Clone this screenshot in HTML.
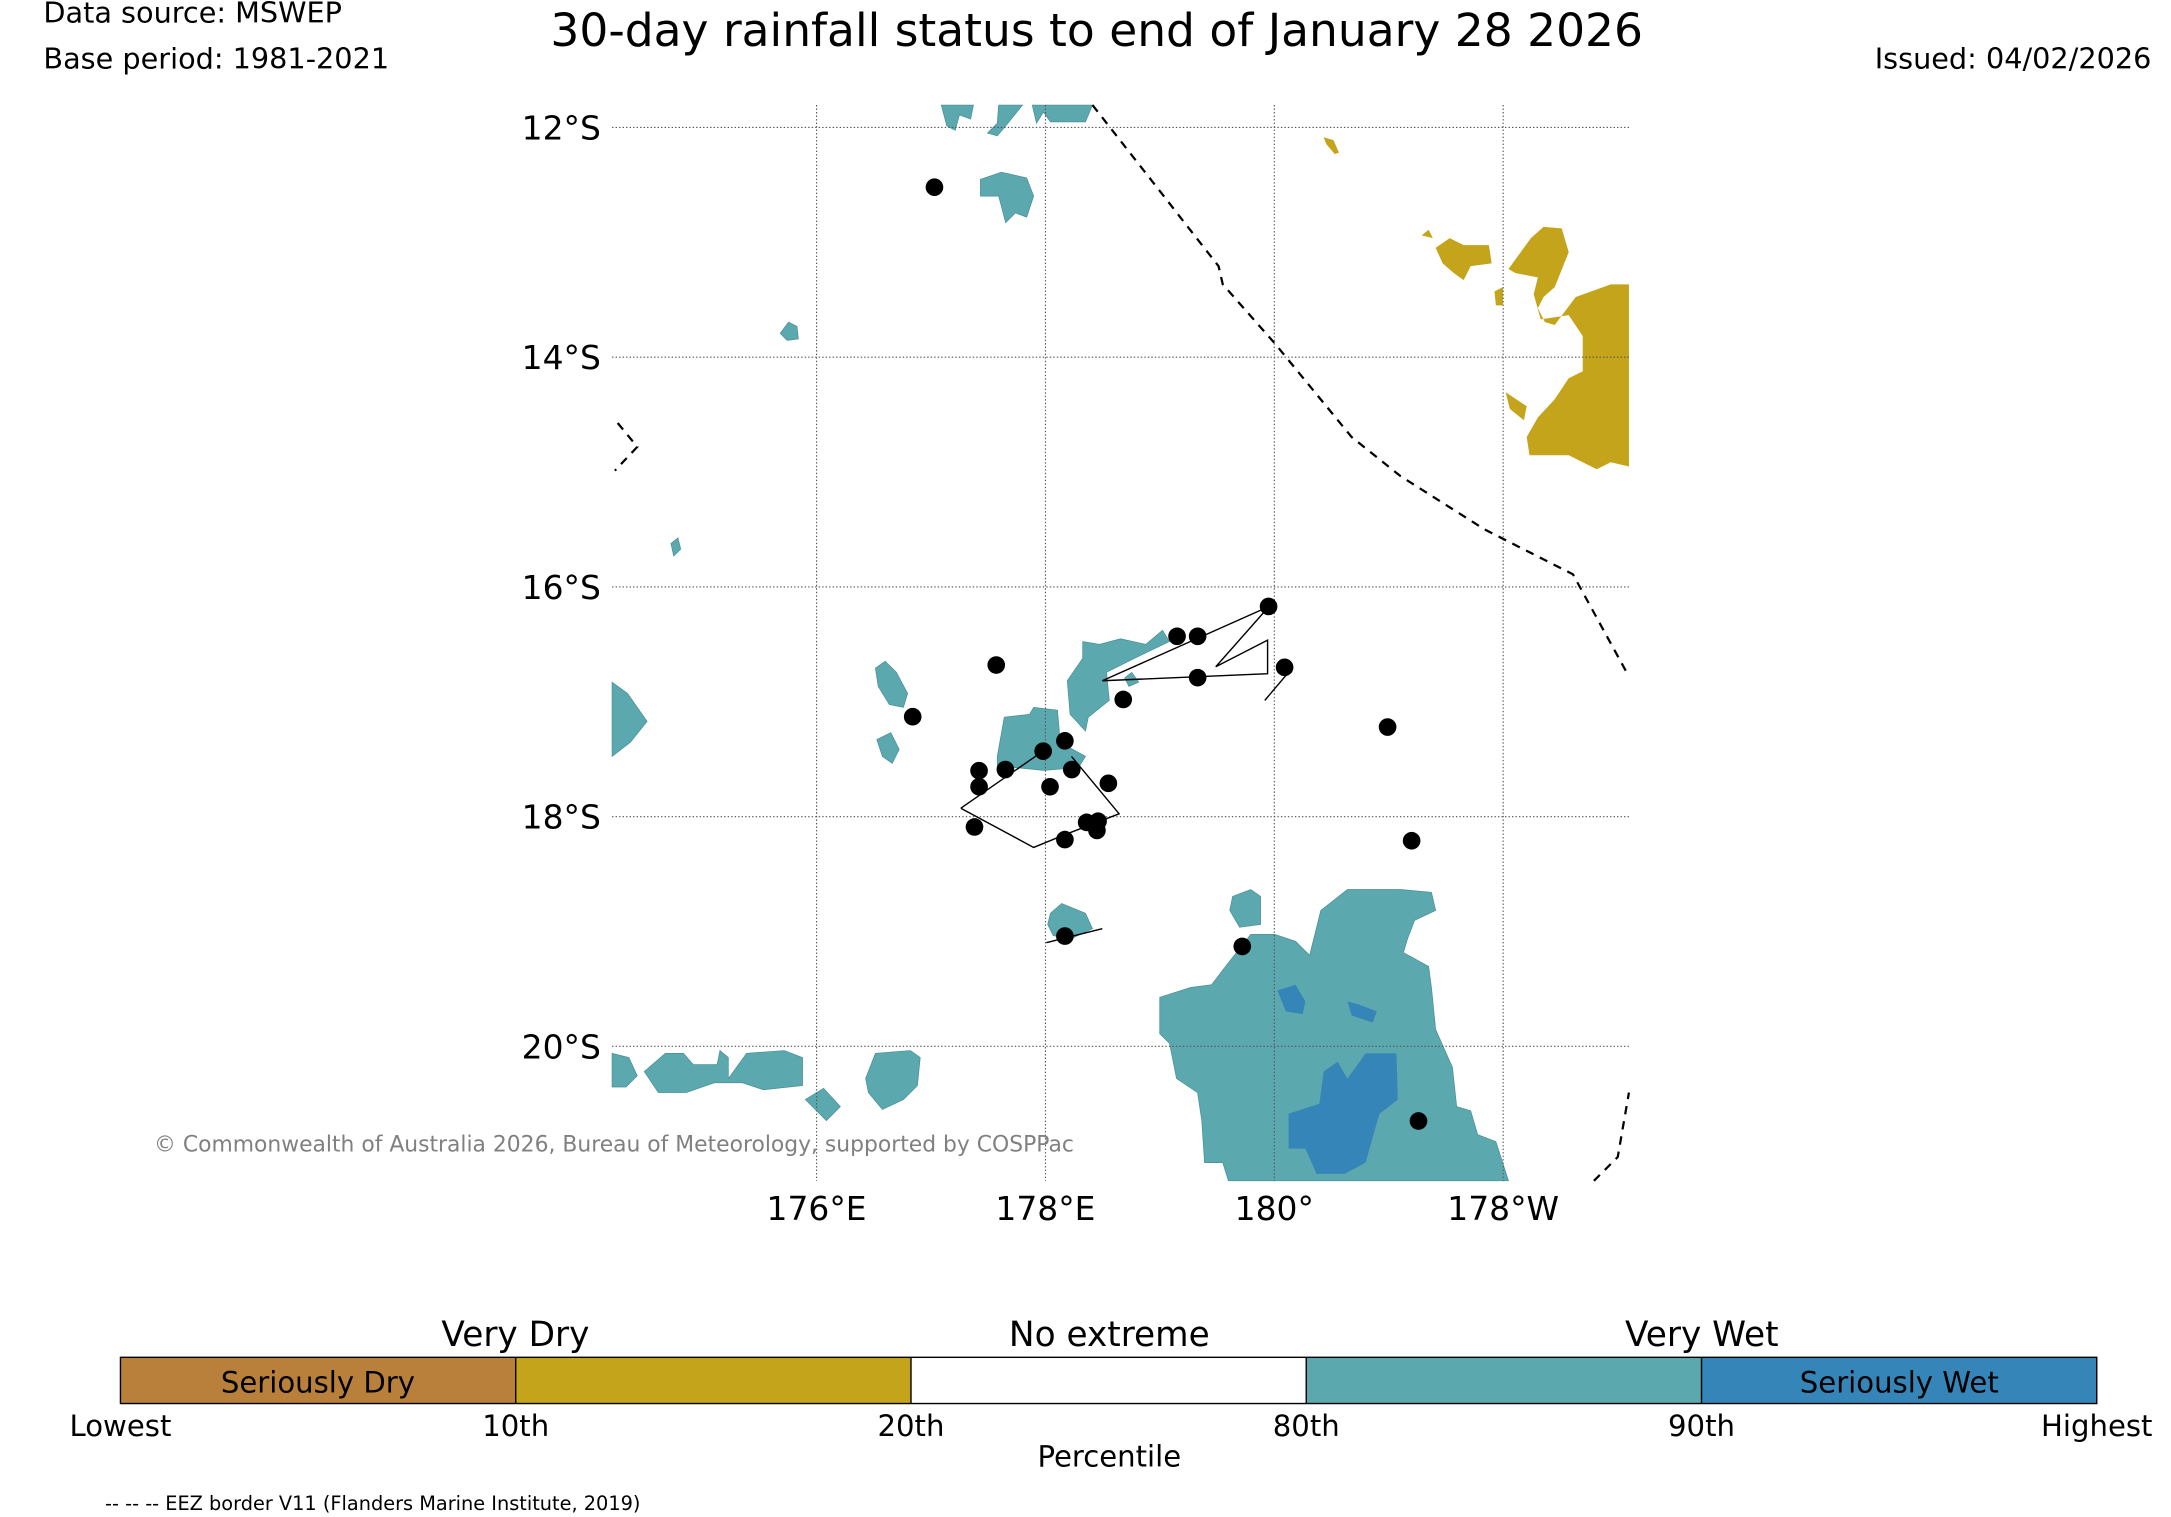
<!DOCTYPE html>
<html><head><meta charset="utf-8"><style>
html,body{margin:0;padding:0;background:#fff}
svg{display:block}
text{font-family:"DejaVu Sans","Liberation Sans",sans-serif}
</style></head><body>
<svg id="chart" xmlns="http://www.w3.org/2000/svg" width="2171" height="1517" viewBox="0 0 1550 1083" preserveAspectRatio="none">
<rect width="1550" height="1083" fill="#fff"/>
<text x="31" y="16" font-size="20.5">Data source: MSWEP</text>
<text x="31" y="49" font-size="20.5">Base period: 1981-2021</text>
<text x="783" y="33" font-size="32.5" text-anchor="middle">30-day rainfall status to end of January 28 2026</text>
<text x="1536" y="49" font-size="20.5" text-anchor="end">Issued: 04/02/2026</text>
<g id="map"></g>
<text x="110" y="822" font-size="15.6" fill="#808080">© Commonwealth of Australia 2026, Bureau of Meteorology, supported by COSPPac</text>
<g id="cbar"></g>
<text x="75" y="1078" font-size="13.8">-- -- -- EEZ border V11 (Flanders Marine Institute, 2019)</text>
</svg>
<script>
const NS="http://www.w3.org/2000/svg";
const latTicks=[12,14,16,18,20];
const lonTicks=[176,178,180,182];
const lonLabels=["176°E","178°E","180°","178°W"];
const stationLon=[177.03,177.57,176.84,177.42,177.42,177.65,177.98,178.17,178.23,178.04,178.55,177.38,178.17,178.36,178.46,178.45,178.68,179.15,179.33,179.95,179.33,180.09,180.99,181.20,178.17,179.72,181.26];
const stationLat=[12.52,16.68,17.13,17.60,17.74,17.59,17.43,17.34,17.59,17.74,17.71,18.09,18.20,18.05,18.04,18.12,16.98,16.43,16.43,16.17,16.79,16.70,17.22,18.21,19.04,19.13,20.65];
const cbarLabels=["Lowest","10th","20th","80th","90th","Highest"];
const cbarColors=["#B8803A","#C4A41A","#ffffff","#5BA8AE","#3585B8"];
const X0=437,X1=1163,Y0=75,Y1=843;
const xOf=lon=>583+(lon-176)*81.7;
const yOf=lat=>91+(lat-12)*82;
const map=document.getElementById('map');
function mk(tag,attrs,parent){const e=document.createElementNS(NS,tag);for(const k in attrs)e.setAttribute(k,attrs[k]);(parent||map).appendChild(e);return e;}
const teal=[
"672,75 695,75 693,85 685,82 682,93 676,90","713,75 730,75 718,90 712,97 705,95 712,88","737,75 780,75 775,87 750,87 745,80 740,88",
"700,128 715,123 733,127 738,140 733,155 725,152 718,159 713,140 700,140","557,238 563,230 569,233 570,242 562,243","479,388 484,384 486,392 481,397",
"437,487 448,495 462,515 450,530 437,540","625,477 632,472 640,480 648,495 645,505 635,503 627,490","626,528 636,523 642,535 637,545 630,540",
"712,540 717,512 735,510 738,505 755,507 757,530 775,540 770,548 745,550 725,548 712,548",
"762,486 773,470 773,458 785,460 800,456 818,460 830,450 835,458 810,470 790,480 792,500 777,512 775,522 764,510",
"803,484 808,480 813,487 806,490","750,652 758,645 775,652 780,663 765,670 752,668 748,660",
"437,752 449,755 455,768 447,776 437,776","460,765 475,752 488,752 495,760 512,760 514,750 520,755 520,770 533,752 560,750 573,755 573,775 545,778 530,773 510,773 490,780 470,780",
"575,785 588,777 600,790 590,800","625,752 650,750 657,755 655,775 645,785 630,792 620,780 618,770",
"880,640 893,635 900,640 900,660 885,662 878,650",
"828,712 850,705 865,703 875,690 893,667 910,667 925,672 935,682 943,650 962,635 1000,635 1022,637 1025,650 1010,657 1005,670 1002,680 1020,690 1022,705 1025,735 1037,762 1040,790 1050,793 1055,810 1068,815 1077,843 877,843 873,830 860,830 858,800 855,780 840,770 835,745 828,738"];
const blue=["920,795 942,788 945,765 955,758 962,770 975,752 997,752 998,785 985,795 982,805 975,830 960,838 940,838 932,820 920,820","912,707 925,703 932,715 930,724 918,722","962,715 970,717 983,722 980,730 965,725"];
const gold=["945,98 952,100 956,109 953,110 947,103","1015,168 1020,164 1023,170","1025,177 1035,170 1045,175 1063,175 1065,188 1050,190 1045,200 1038,195 1030,188",
"1077,192 1093,170 1102,162 1115,163 1120,180 1110,205 1102,212 1098,220 1103,230 1110,232 1125,212 1150,203 1163,203 1163,333 1150,330 1140,335 1120,325 1092,325 1090,312 1098,298 1110,285 1120,270 1130,265 1130,240 1120,225 1100,228 1095,210 1098,198 1082,195",
"1067,208 1073,205 1073,218 1068,218","1075,280 1090,290 1088,300 1078,292"];
teal.forEach(p=>{const e=mk('polygon',{points:p,fill:'#5BA8AE',stroke:'#4a9096','stroke-width':0.5});

});
blue.forEach(p=>{const e=mk('polygon',{points:p,fill:'#3585B8'});

});
gold.forEach(p=>{const e=mk('polygon',{points:p,fill:'#C4A41A'});

});
latTicks.forEach(l=>{const y=yOf(l);
const g=mk('line',{x1:X0,x2:X1,y1:y,y2:y,stroke:'#555','stroke-width':0.8,'stroke-dasharray':'1,1.5'});


const t=mk('text',{x:X0-8,y:y+8.5,'font-size':23.5,'text-anchor':'end'});t.textContent=l+'°S';

});
lonTicks.forEach((l,i)=>{const x=xOf(l);
const g=mk('line',{x1:x,x2:x,y1:Y0,y2:Y1,stroke:'#555','stroke-width':0.8,'stroke-dasharray':'1,1.5'});


const t=mk('text',{x:x,y:871,'font-size':23.5,'text-anchor':'middle'});t.textContent=lonLabels[i];

});
["780,75 870,190 873,203 910,245 965,312 1000,340 1060,378 1123,410 1163,483","441,302 455,319 439,336","1138,843 1155,826 1163,780"].forEach(p=>{
const e=mk('polyline',{points:p,fill:'none',stroke:'#000','stroke-width':1.6,'stroke-dasharray':'6,5'});

});
["787,486 906,433 868,476 905,457 905,481 787,486","686,577 745,536","765,540 799,581 760,596 738,605 686,577","903,500 920,480","747,673 787,663"].forEach(p=>{
const e=mk('polyline',{points:p,fill:'none',stroke:'#000','stroke-width':1});

});
stationLon.forEach((lon,i)=>{const c=mk('ellipse',{cx:xOf(lon),cy:yOf(stationLat[i]),rx:6.3,ry:6.3,fill:'#000'});

});
const cb=document.getElementById('cbar');const cx0=86,cw=1411/5;
cbarColors.forEach((c,i)=>{const r=mk('rect',{x:cx0+i*cw,y:969,width:cw,height:33,fill:c},cb);

});
mk('rect',{x:cx0,y:969,width:1411,height:33,fill:'none',stroke:'#000','stroke-width':1},cb);
for(let i=1;i<5;i++)mk('line',{x1:cx0+i*cw,x2:cx0+i*cw,y1:969,y2:1002,stroke:'#000','stroke-width':1},cb);
cbarLabels.forEach((l,i)=>{const t=mk('text',{x:cx0+i*cw,y:1025,'font-size':20.8,'text-anchor':'middle'},cb);t.textContent=l;

});
[["Very Dry",368,961,24.5],["No extreme",792,961,24.5],["Very Wet",1215,961,24.5],["Seriously Dry",227,994,20.8],["Seriously Wet",1356,994,20.8],["Percentile",792,1047,20.8]].forEach(a=>{
const t=mk('text',{x:a[1],y:a[2],'font-size':a[3],'text-anchor':'middle'},cb);t.textContent=a[0];

});
</script>
</body></html>
